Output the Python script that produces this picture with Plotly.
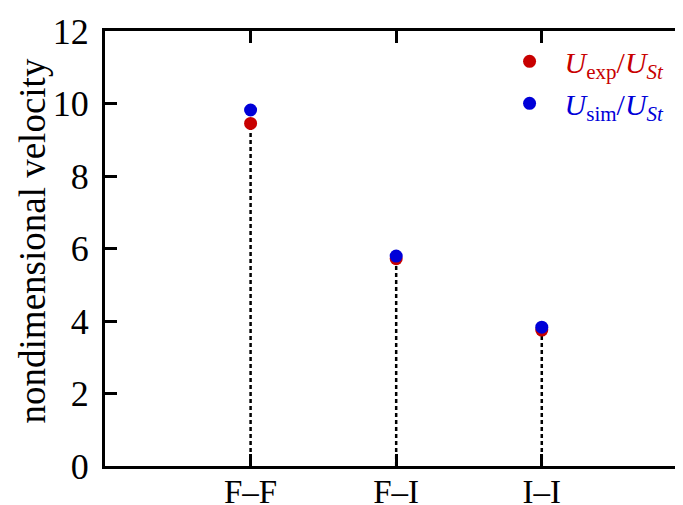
import plotly.graph_objects as go

categories = ["F\u2013F", "F\u2013I", "I\u2013I"]
u_exp = [9.45, 5.72, 3.75]
u_sim = [9.82, 5.79, 3.83]
y_ticks = [0, 2, 4, 6, 8, 10, 12]

RED = "#c80000"
BLUE = "#0000d8"
FONT = "Liberation Serif"

# dashed stems from 0 to experimental value
stem_x, stem_y = [], []
for c, v in zip(categories, u_exp):
    stem_x += [c, c, None]
    stem_y += [0, v, None]

fig = go.Figure()
fig.add_trace(go.Scatter(x=stem_x, y=stem_y, mode="lines",
                         line=dict(color="black", width=2.5, dash="4px,3px"),
                         showlegend=False, hoverinfo="skip"))
fig.add_trace(go.Scatter(
    x=categories, y=u_exp, mode="markers",
    marker=dict(color=RED, size=13),
    name=f'<span style="color:{RED}"><i>U</i><sub>exp</sub>/<i>U</i><sub><i>St</i></sub></span>'))
fig.add_trace(go.Scatter(
    x=categories, y=u_sim, mode="markers",
    marker=dict(color=BLUE, size=13),
    name=f'<span style="color:{BLUE}"><i>U</i><sub>sim</sub>/<i>U</i><sub><i>St</i></sub></span>'))
fig.add_trace(go.Scatter(x=[], y=[], yaxis="y2", showlegend=False))

# page body has an 8px default margin, so the figure is 8px smaller
fig.update_layout(
    width=675, height=497,
    margin=dict(l=97, r=0, t=23, b=39, autoexpand=False),
    paper_bgcolor="white", plot_bgcolor="white",
    font=dict(family=FONT, size=34, color="black"),
    showlegend=True,
    legend=dict(x=0.674, y=0.99, xanchor="left", yanchor="top",
                bgcolor="rgba(0,0,0,0)", font=dict(family=FONT, size=30),
                tracegroupgap=0, itemwidth=60),
    xaxis=dict(type="category", categoryorder="array", categoryarray=categories,
               range=[-1, 2.97], showline=True, linecolor="black", linewidth=3,
               mirror="ticks", ticks="inside", ticklen=12, tickwidth=3,
               tickcolor="black", showgrid=False, zeroline=False,
               automargin=False, ticklabelstandoff=-6,
               tickfont=dict(family=FONT, size=33)),
    yaxis=dict(range=[0, 12], tickvals=y_ticks, showline=True, linecolor="black",
               linewidth=3, mirror=False, ticks="inside", ticklen=12, tickwidth=3,
               tickcolor="black", showgrid=False, zeroline=False,
               automargin=False, ticklabelstandoff=6,
               tickfont=dict(family=FONT, size=36)),
    yaxis2=dict(range=[0, 12], tickvals=y_ticks, overlaying="y", side="right",
                anchor="x", showline=False, ticks="inside", ticklen=5, tickwidth=3,
                tickcolor="black", showticklabels=False, showgrid=False,
                zeroline=False, automargin=False),
    annotations=[dict(text="nondimensional velocity", xref="paper", yref="paper",
                      x=-0.125, y=0.518, xanchor="center", yanchor="middle",
                      textangle=-90, showarrow=False,
                      font=dict(family=FONT, size=37, color="black"))],
)

fig.write_html("out.html")
